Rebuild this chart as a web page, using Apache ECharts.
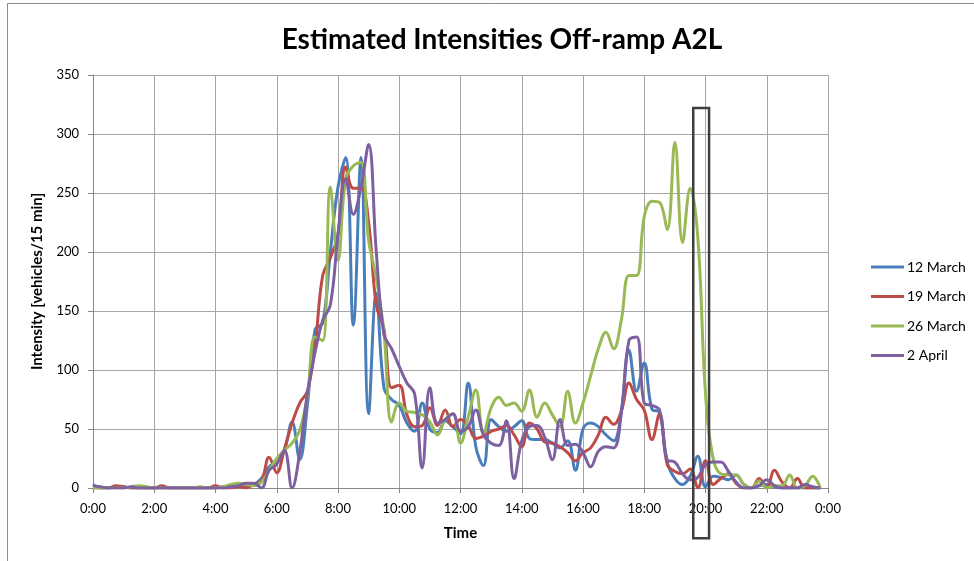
<!DOCTYPE html>
<html>
<head>
<meta charset="utf-8">
<script src="https://cdn.jsdelivr.net/npm/echarts@6/dist/echarts.min.js"></script>
<style>
  html, body { margin: 0; padding: 0; background: #fff; }
  #chart { width: 974px; height: 561px; }
</style>
</head>
<body>
<div id="chart"></div>
<script>
// Off-ramp A2L: estimated intensity per 15-minute interval (00:00 .. 23:45)
const seriesNames = ['12 March', '19 March', '26 March', '2 April'];
const seriesColors = ['#4A7EBB', '#BE4B48', '#98B954', '#7D60A0'];

const march12 = [
  3, 0, 0, 1, 1, 0, 0, 0, 0, 0, 0, 0, 0, 0, 0, 0, 0, 1, 2, 3,
  2, 3, 8, 18, 22, 32, 56, 24, 70, 134, 140, 200, 255, 280, 138, 280, 63, 165, 85, 75,
  70, 55, 48, 72, 50, 47, 57, 52, 46, 89, 35, 19, 58, 52, 48, 52, 57, 42, 41, 41,
  38, 34, 40, 15, 50, 55, 52, 45, 40, 65, 117, 82, 106, 67, 64, 22, 8, 3, 10, 27,
  1, 10, 9, 7, 11, 3, 0, 2, 3, 1, 0, 0, 0, 0, 0, 0
];
const march19 = [
  0, 0, 0, 2, 1, 0, 0, 0, 0, 2, 0, 0, 0, 0, 0, 0, 2, 0, 0, 1,
  0, 3, 6, 26, 13, 33, 55, 72, 82, 120, 180, 195, 215, 272, 254, 254, 225, 155, 135, 85,
  87, 62, 52, 53, 68, 53, 66, 52, 58, 53, 42, 44, 48, 50, 53, 45, 35, 55, 50, 39,
  38, 35, 30, 23, 30, 34, 45, 60, 54, 65, 89, 75, 66, 41, 63, 20, 14, 12, 16, 0,
  23, 3, 8, 12, 4, 0, 0, 8, 0, 15, 5, 0, 8, 0, 0, 0
];
const march26 = [
  0, 0, 0, 0, 0, 1, 2, 1, 0, 0, 0, 0, 0, 0, 1, 0, 0, 1, 3, 4,
  3, 2, 5, 15, 25, 32, 38, 49, 78, 128, 125, 255, 193, 262, 273, 276, 210, 178, 132, 56,
  72, 65, 64, 62, 56, 45, 58, 63, 38, 60, 83, 46, 68, 77, 70, 72, 65, 83, 60, 72,
  62, 52, 82, 55, 72, 95, 118, 132, 118, 142, 180, 180, 230, 243, 242, 219, 293, 208, 254, 212,
  80, 25, 12, 11, 11, 3, 0, 6, 0, 2, 2, 11, 0, 2, 10, 0
];
const april2 = [
  2, 1, 0, 0, 0, 1, 0, 0, 0, 0, 0, 0, 0, 0, 0, 0, 0, 0, 1, 2,
  4, 4, 0, 15, 20, 32, 0, 30, 80, 115, 142, 155, 215, 262, 232, 255, 291, 200, 130, 118,
  103, 89, 80, 17, 85, 55, 58, 63, 48, 52, 66, 45, 38, 36, 57, 8, 40, 52, 53, 43,
  24, 58, 36, 37, 30, 18, 31, 35, 34, 63, 125, 128, 72, 70, 66, 24, 22, 12, 7, 9,
  20, 22, 22, 14, 5, 0, 0, 2, 7, 2, 0, 0, 0, 3, 1, 0
];
const seriesValues = [march12, march19, march26, april2];

const stepMinutes = 15;
const xTicks = [0, 120, 240, 360, 480, 600, 720, 840, 960, 1080, 1200, 1320, 1440];
const yTicks = [0, 50, 100, 150, 200, 250, 300, 350];

// highlighted period around 20:00 (minutes, vehicles/15 min)
const boxTime = [1176, 1207];
const boxValue = [-42.5, 322];

function timeLabel(m) {
  const h = Math.floor(m / 60) % 24;
  const mm = m % 60;
  return h + ':' + (mm < 10 ? '0' : '') + mm;
}

const font = 'Lato, "Open Sans", sans-serif';
const chart = echarts.init(document.getElementById('chart'), null, { renderer: 'canvas' });

const option = {
  animation: false,
  backgroundColor: '#ffffff',
  title: {
    text: 'Estimated Intensities Off-ramp A2L',
    left: 497,
    textAlign: 'center',
    top: 21,
    textStyle: { fontFamily: font, fontSize: 28, fontWeight: 'bold', color: '#000' }
  },
  legend: {
    orient: 'vertical',
    left: 866,
    top: 255,
    itemGap: 15.5,
    itemWidth: 33,
    itemHeight: 3,
    icon: 'rect',
    textStyle: { fontFamily: font, fontSize: 14, color: '#000', padding: [0, 0, 0, -2] },
    data: seriesNames
  },
  grid: { left: 93, right: 146, top: 75, bottom: 73 },
  xAxis: {
    type: 'value',
    min: xTicks[0],
    max: xTicks[xTicks.length - 1],
    interval: 120,
    name: 'Time',
    nameLocation: 'middle',
    nameGap: 38,
    nameTextStyle: { fontFamily: font, fontSize: 15, fontWeight: 'bold', color: '#000' },
    axisLine: { lineStyle: { color: '#868686', width: 1 } },
    axisTick: { show: true, length: 5, lineStyle: { color: '#868686' } },
    axisLabel: { fontFamily: font, fontSize: 13, color: '#000', margin: 14, formatter: timeLabel },
    splitLine: { show: true, lineStyle: { color: '#a6a6a6', width: 1 } }
  },
  yAxis: {
    type: 'value',
    min: yTicks[0],
    max: yTicks[yTicks.length - 1],
    interval: 50,
    name: 'Intensity [vehicles/15 min]',
    nameLocation: 'middle',
    nameGap: 48,
    nameTextStyle: { fontFamily: font, fontSize: 15, fontWeight: 'bold', color: '#000' },
    axisLine: { show: true, lineStyle: { color: '#868686', width: 1 } },
    axisTick: { show: true, length: 5, lineStyle: { color: '#868686' } },
    axisLabel: { fontFamily: font, fontSize: 13, color: '#000', margin: 14 },
    splitLine: { show: true, lineStyle: { color: '#a6a6a6', width: 1 } }
  },
  series: seriesNames.map((name, k) => ({
    name: name,
    type: 'line',
    smooth: 0.4,
    showSymbol: false,
    symbol: 'none',
    color: seriesColors[k],
    lineStyle: { width: 3, color: seriesColors[k] },
    data: seriesValues[k].map((v, i) => [i * stepMinutes, v])
  }))
};

chart.setOption(option);

// chart frame and the highlighted box, placed through the axis scales
const p0 = chart.convertToPixel({ gridIndex: 0 }, [boxTime[0], boxValue[1]]);
const p1 = chart.convertToPixel({ gridIndex: 0 }, [boxTime[1], boxValue[0]]);
chart.setOption({
  graphic: [
    {
      type: 'rect',
      shape: { x: 7.5, y: 3.5, width: 975, height: 600 },
      style: { fill: null, stroke: '#8c8c8c', lineWidth: 1 },
      silent: true
    },
    {
      type: 'rect',
      shape: { x: p0[0], y: p0[1], width: p1[0] - p0[0], height: p1[1] - p0[1] },
      style: { fill: null, stroke: '#3f3f3f', lineWidth: 2.5 },
      z: 100,
      silent: true
    }
  ]
});
</script>
</body>
</html>
